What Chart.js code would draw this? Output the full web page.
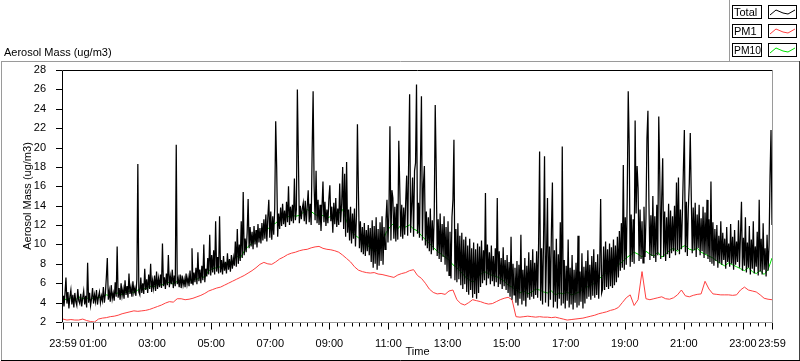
<!DOCTYPE html>
<html><head><meta charset="utf-8">
<script src="https://cdn.jsdelivr.net/npm/chart.js@4.4.0/dist/chart.umd.min.js"></script>
<style>
html,body{margin:0;padding:0;background:#fff;}
#wrap{position:relative;width:800px;height:361px;overflow:hidden;}
#c{position:absolute;left:0;top:0;}
</style></head>
<body><div id="wrap"><canvas id="c" width="800" height="361"></canvas></div>
<script>
// ---- data (minutes after midnight; -1 = 23:59 previous day) ----
const seriesNames = ['Total', 'PM1', 'PM10'];
const totalStart = -1, totalStep = 2;
const totalValues = [
4.7,3.6,4.9,6.6,3.9,5.1,3.4,4.6,5.3,3.8,4.8,3.5,5.0,4.1,3.7,5.4,4.2,3.9,4.9,3.6,
4.5,5.2,3.8,4.7,3.5,8.1,4.0,5.0,3.7,4.4,5.5,3.9,4.8,4.1,5.3,3.8,4.6,5.1,4.0,4.7,
4.2,5.6,4.0,4.9,6.6,8.6,4.3,5.2,4.1,5.8,4.4,5.0,4.2,6.1,4.6,9.8,4.5,5.5,4.3,6.0,
4.7,5.4,4.4,6.3,4.8,5.7,4.5,7.0,4.9,5.6,4.6,6.2,5.0,5.5,4.7,6.4,18.3,5.1,4.8,6.6,
5.0,6.0,4.9,7.5,5.3,6.4,5.0,6.9,5.4,8.0,5.1,6.3,5.5,6.8,5.2,7.2,5.4,6.5,5.6,6.9,
5.5,10.1,5.7,6.6,5.4,7.0,5.8,8.9,5.6,6.7,5.9,7.4,5.5,6.8,5.7,20.3,5.9,6.5,5.6,6.9,
5.5,6.8,5.8,6.4,5.6,7.0,5.9,6.6,5.7,7.3,6.0,9.6,5.8,7.1,6.1,7.6,5.9,9.2,6.2,7.4,
6.0,7.8,6.3,10.0,6.1,7.5,6.7,8.6,6.9,11.0,6.8,8.9,7.1,9.4,6.9,12.4,7.2,8.7,7.0,12.9,
7.1,8.4,6.9,8.8,7.3,8.2,7.0,9.1,7.4,8.5,7.2,8.9,7.5,8.6,7.8,10.3,7.7,11.6,8.0,10.0,
8.3,12.4,8.6,15.4,8.9,10.6,9.2,11.2,14.7,9.6,11.8,9.8,11.3,9.5,11.9,10.0,11.5,9.7,12.1,10.2,
11.7,10.1,12.2,10.4,12.6,10.6,13.1,10.3,12.8,14.6,10.7,13.4,10.5,12.9,11.0,13.7,22.7,17.9,10.8,13.2,
11.6,13.8,11.9,14.2,12.1,13.5,11.8,14.4,12.3,16.0,12.0,13.9,12.4,14.1,12.2,16.8,12.5,13.6,26.0,19.1,
12.2,14.0,12.6,13.7,14.3,12.4,14.5,12.1,13.9,15.6,12.3,14.2,12.0,19.6,25.8,16.0,12.5,17.6,12.2,14.6,
12.0,14.1,11.4,13.8,16.5,12.3,14.4,11.9,13.6,12.2,14.7,16.1,12.4,13.9,11.2,14.3,12.1,14.8,11.8,13.7,
12.0,16.3,12.3,14.2,18.0,11.6,17.3,10.8,18.5,11.2,13.6,10.4,13.9,10.1,13.2,10.6,13.7,9.8,12.9,22.4,
15.5,9.6,12.4,9.2,11.8,9.0,12.2,8.8,11.5,9.3,12.0,8.9,11.7,8.2,12.5,7.6,11.9,8.0,12.8,7.4,
11.6,7.8,12.3,8.3,12.9,7.9,11.8,9.5,12.6,14.6,10.2,13.3,22.2,10.4,15.6,14.8,10.6,13.9,10.3,14.2,
10.5,20.7,15.8,10.8,14.1,10.6,13.8,11.0,14.4,17.1,10.9,18.5,25.5,11.2,14.0,16.9,10.8,17.6,18.4,26.5,
11.1,14.3,10.7,18.4,25.3,10.4,16.2,18.1,9.9,13.4,9.6,12.8,9.3,13.7,9.0,12.5,9.4,13.1,24.4,17.7,
8.8,12.6,8.5,13.2,8.2,12.1,8.7,12.9,7.9,11.8,7.2,12.4,6.8,11.3,6.5,12.8,14.6,20.8,6.3,11.6,
6.1,12.2,6.4,10.9,5.8,11.2,5.4,10.5,5.9,10.8,5.1,9.9,4.8,10.6,5.3,9.6,4.5,10.2,4.9,9.5,
4.4,10.1,5.0,9.8,5.6,10.4,6.0,9.4,6.3,15.3,5.8,10.0,6.5,9.2,5.9,9.9,6.2,8.8,5.7,9.6,
6.1,14.8,5.6,9.3,5.9,8.6,5.4,9.7,5.7,8.4,5.3,8.9,5.0,8.2,4.6,10.8,4.3,8.0,4.8,7.6,
4.0,8.3,3.7,7.9,4.4,11.0,3.8,7.4,4.2,8.6,3.6,7.8,4.5,9.2,4.3,8.4,4.6,9.5,4.4,8.1,
4.8,9.3,4.5,10.2,19.6,4.2,9.6,3.8,10.4,19.1,4.0,8.9,14.8,3.6,9.8,4.3,11.5,16.4,3.5,9.4,
4.1,10.6,3.4,9.0,4.4,12.3,3.7,20.1,3.9,8.4,3.4,7.8,4.2,10.5,3.5,7.6,3.8,8.9,3.3,7.4,
4.0,8.1,3.5,10.9,3.7,7.2,4.1,9.1,3.4,7.7,3.9,8.3,4.4,9.4,4.6,7.9,4.3,8.8,4.7,9.5,
4.5,8.2,4.8,9.0,4.4,7.6,14.7,5.0,5.4,9.8,5.3,10.3,5.6,9.5,5.4,10.1,5.7,9.7,5.5,10.5,
5.8,9.9,6.1,10.8,6.6,11.4,7.3,12.2,7.6,18.2,7.4,12.8,7.9,15.0,25.8,20.1,7.7,13.1,8.2,12.6,
8.0,22.8,13.2,18.1,15.8,8.3,13.6,8.5,12.4,8.1,13.9,8.7,12.7,20.9,23.8,14.4,8.4,13.0,8.8,15.0,
8.6,12.9,8.2,14.1,8.9,23.2,17.3,8.5,14.8,18.9,8.7,13.4,8.3,12.8,9.0,14.2,8.6,13.5,9.1,12.9,
9.3,14.0,8.9,16.4,9.4,16.9,9.0,13.6,9.5,13.2,17.7,21.8,9.2,14.4,8.8,13.7,16.3,21.5,15.0,9.1,
13.8,9.4,14.3,8.7,13.1,9.6,14.1,8.9,12.7,9.3,13.9,8.6,13.3,9.0,14.6,8.5,12.6,8.2,16.5,8.0,
12.3,7.8,11.6,8.3,12.0,7.6,10.9,8.1,12.4,7.9,11.2,8.4,10.6,7.5,11.8,8.2,10.1,7.7,12.1,8.0,
10.8,7.4,11.5,7.9,10.3,8.2,12.5,7.6,11.0,14.4,7.3,10.7,7.8,12.8,7.1,10.2,7.6,11.9,6.9,10.5,
7.5,12.4,7.0,9.8,7.7,11.3,6.8,14.6,7.2,10.6,6.9,12.2,7.4,9.6,6.7,11.0,7.3,9.9,17.0,21.8,
12.0
];
const pm10Start = -1, pm10Step = 8;
const pm10Values = [
4.4,4.3,4.5,4.2,4.6,4.4,4.5,4.3,4.6,4.5,
4.6,4.8,4.7,4.9,5.0,4.8,5.1,5.2,5.0,5.3,
5.5,5.4,5.7,5.6,5.9,5.8,6.0,6.1,5.9,6.2,
6.1,6.3,6.2,6.5,6.4,6.7,6.6,7.3,7.5,7.6,
7.7,7.8,8.3,8.1,8.8,8.6,9.3,9.8,10.1,10.5,
11.2,11.5,11.6,12.0,12.2,12.6,12.9,12.8,13.1,12.9,
13.0,13.3,13.6,13.4,13.1,12.9,13.0,12.7,12.9,12.8,
13.2,13.6,12.4,11.5,11.0,10.7,10.3,10.1,9.6,9.3,
9.4,10.0,11.2,11.8,12.2,11.6,12.1,11.8,12.0,11.6,
11.4,10.9,10.5,10.1,9.7,9.3,9.0,8.7,8.4,7.9,
7.6,7.2,6.7,6.4,6.1,6.5,6.9,7.2,7.0,6.8,
6.7,6.5,6.2,5.8,5.6,5.3,5.0,5.2,4.9,5.1,
5.4,5.3,5.1,5.0,5.2,4.8,5.0,4.9,5.1,4.8,
4.9,5.1,5.4,5.6,5.8,6.0,6.4,6.8,7.1,7.4,
7.4,7.9,8.2,8.6,8.9,9.2,9.0,8.7,9.3,9.0,
8.8,9.2,8.7,9.0,9.4,9.6,9.3,9.7,9.9,9.5,
9.4,9.6,9.2,9.0,8.8,8.6,8.3,8.0,7.8,8.1,
7.9,7.7,7.5,7.3,7.6,7.2,7.0,7.3,6.9,7.4,8.6
];
const pm1Start = -1, pm1Step = 8;
const pm1Values = [
2.3,2.2,2.25,2.2,2.2,2.3,2.15,2.05,2.0,2.3,
2.4,2.45,2.55,2.6,2.7,2.85,2.95,3.05,3.15,3.1,
3.15,3.2,3.3,3.45,3.6,3.75,3.95,4.1,4.05,4.4,
4.4,4.3,4.35,4.45,4.6,4.75,4.95,5.2,5.35,5.5,
5.6,5.8,6.0,6.2,6.4,6.6,6.8,7.05,7.3,7.6,
7.95,8.15,8.0,7.95,8.2,8.5,8.7,8.95,9.1,9.2,
9.35,9.45,9.5,9.65,9.75,9.8,9.6,9.5,9.45,9.35,
9.2,8.9,8.55,8.2,7.7,7.35,7.2,7.1,7.05,7.1,
6.95,6.9,6.8,6.7,6.6,6.85,7.0,7.1,7.3,7.4,
6.8,6.5,6.0,5.4,5.05,4.9,4.95,4.85,5.2,5.3,
4.3,3.9,3.75,4.0,4.3,4.2,4.1,3.95,3.85,3.9,
4.1,4.3,4.45,4.55,4.3,2.55,2.5,2.55,2.6,2.55,
2.5,2.55,2.5,2.5,2.45,2.5,2.4,2.3,2.2,2.25,
2.3,2.35,2.4,2.5,2.6,2.7,2.85,2.95,3.05,3.2,
3.3,3.5,4.0,4.5,4.8,3.7,4.3,7.2,4.4,4.3,
4.4,4.5,4.6,4.4,4.35,4.5,4.8,5.3,4.7,4.6,
4.75,4.85,4.9,6.2,5.4,4.9,4.85,4.8,4.8,4.8,
4.75,4.8,5.3,5.6,5.3,5.2,5.1,4.8,4.45,4.35,4.3
];
const yTickValues = [2,4,6,8,10,12,14,16,18,20,22,24,26,28];
const majorTickTimes = [-1,60,180,300,420,540,660,780,900,1020,1140,1260,1380,1439];
const majorTickLabels = ['23:59','01:00','03:00','05:00','07:00','09:00','11:00','13:00','15:00','17:00','19:00','21:00','23:00','23:59'];
const yTitle = 'Aerosol Mass (ug/m3)';
const xTitle = 'Time';
const graphCaption = 'Aerosol Mass (ug/m3)';

// ---- styles ----
const FONT = '11px "Liberation Sans", Arial, sans-serif';
const colors = {Total:'#000000', PM1:'#ff4040', PM10:'#00e000'};
const widths = {Total:1.25, PM1:1, PM10:1};

function toPoints(start, step, vals){ return vals.map((v,i)=>({x:start+i*step, y:v})); }

// x ticks: every 15 min plus the end points
const xTickTimes = [-1];
for (let t = 15; t <= 1425; t += 15) xTickTimes.push(t);
xTickTimes.push(1439);

Chart.defaults.font.family = '"Liberation Sans", Arial, sans-serif';
Chart.defaults.font.size = 11;
Chart.defaults.color = '#000';

const framePlugin = {
  id: 'frame',
  beforeDraw(chart) {
    const ctx = chart.ctx;
    ctx.save();
    ctx.fillStyle = '#fff';
    ctx.fillRect(0, 0, 800, 361);
    ctx.restore();
  },
  afterDatasetsDraw(chart) {
    const ctx = chart.ctx, a = chart.chartArea;
    const xs = chart.scales.x, ys = chart.scales.y;
    ctx.save();
    ctx.lineWidth = 1;
    const line = (x1, y1, x2, y2, c) => { ctx.strokeStyle = c; ctx.beginPath(); ctx.moveTo(x1, y1); ctx.lineTo(x2, y2); ctx.stroke(); };
    // outer panel
    line(1, 61.5, 800, 61.5, '#9a9a9a');
    line(1.5, 61, 1.5, 360, '#9a9a9a');
    line(799.5, 61, 799.5, 361, '#404040');
    line(1, 360.5, 800, 360.5, '#000');
    line(729.5, 0, 729.5, 61, '#9a9a9a');
    // plot frame
    const L = a.left - 0.5, T = a.top + 0.5, R = a.right + 0.5, B = a.bottom + 0.5;
    line(L, T, R, T, '#000');
    line(L, T, L, B, '#000');
    line(R, T, R, B + 0.5, '#9a9a9a');
    line(L - 0.5, B, R + 0.5, B, '#9a9a9a');
    // y tick marks
    yTickValues.forEach(v => {
      const y = Math.round(ys.getPixelForValue(v)) + 0.5;
      line(a.left - 7, y, a.left - 1, y, '#000');
    });
    // x tick marks
    xTickTimes.forEach(t => {
      const x = Math.round(xs.getPixelForValue(t)) + 0.5;
      const major = majorTickTimes.indexOf(t) >= 0;
      line(x, B + 0.5, x, B + (major ? 7 : 4), '#000');
    });
    // caption
    ctx.font = FONT; ctx.fillStyle = '#000'; ctx.textBaseline = 'alphabetic'; ctx.textAlign = 'left';
    ctx.fillText(graphCaption, 4, 56);
    // legend
    const rowTops = [5, 24, 43];
    seriesNames.forEach((n, k) => {
      const top = rowTops[k];
      ctx.strokeStyle = '#000';
      ctx.strokeRect(732.5, top + 0.5, 29, 13);
      ctx.strokeRect(768.5, top + 0.5, 28, 13);
      ctx.save();
      ctx.beginPath(); ctx.rect(733, top + 1, 28, 12); ctx.clip();
      ctx.fillStyle = '#000';
      ctx.fillText(n, 734, top + 11, 27);
      ctx.restore();
      ctx.strokeStyle = colors[n];
      ctx.beginPath();
      const pts = [[770,10],[776,5],[783,8],[788,9],[795,5]];
      pts.forEach((p, m) => { if (m) ctx.lineTo(p[0], top + p[1]); else ctx.moveTo(p[0], top + p[1]); });
      ctx.stroke();
    });
    ctx.restore();
  }
};

new Chart(document.getElementById('c'), {
  type: 'line',
  data: {
    datasets: [
      {label: 'Total', data: toPoints(totalStart, totalStep, totalValues), borderColor: colors.Total, borderWidth: widths.Total, order: 0},
      {label: 'PM1', data: toPoints(pm1Start, pm1Step, pm1Values), borderColor: colors.PM1, borderWidth: widths.PM1, order: 1},
      {label: 'PM10', data: toPoints(pm10Start, pm10Step, pm10Values), borderColor: colors.PM10, borderWidth: widths.PM10, order: 2}
    ]
  },
  options: {
    responsive: false,
    animation: false,
    events: [],
    layout: {padding: {left: 0, top: 70, right: 28, bottom: 0}},
    elements: {line: {tension: 0, fill: false}, point: {radius: 0}},
    plugins: {legend: {display: false}, tooltip: {enabled: false}, title: {display: false}},
    scales: {
      x: {
        type: 'linear', min: -1, max: 1439,
        grid: {display: false}, border: {display: false},
        afterBuildTicks: s => { s.ticks = xTickTimes.map(v => ({value: v})); },
        afterFit: s => { s.height = 39; },
        ticks: {
          autoSkip: false, maxRotation: 0, minRotation: 0, padding: 7,
          callback: v => { const k = majorTickTimes.indexOf(v); return k >= 0 ? majorTickLabels[k] : ''; }
        },
        title: {display: true, text: xTitle, padding: {top: 0, bottom: 2}}
      },
      y: {
        min: 2, max: 28,
        grid: {display: false}, border: {display: false},
        afterBuildTicks: s => { s.ticks = yTickValues.map(v => ({value: v})); },
        afterFit: s => { s.width = 63; },
        ticks: {padding: 9},
        title: {display: true, text: yTitle, padding: {top: 21, bottom: 0}}
      }
    }
  },
  plugins: [framePlugin]
});
</script>
</body></html>
